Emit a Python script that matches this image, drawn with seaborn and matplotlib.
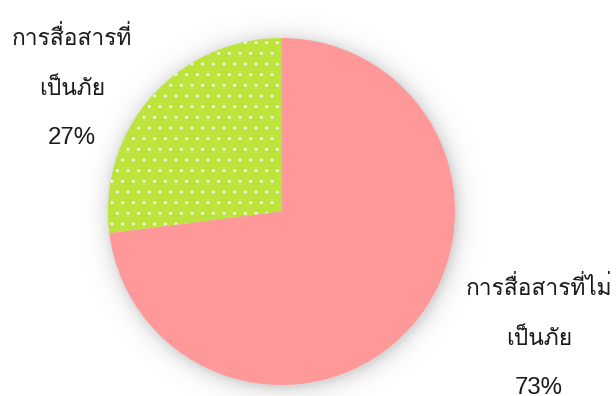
import numpy as np
import matplotlib
matplotlib.use("Agg")
import matplotlib.pyplot as plt
import seaborn as sns

# Share of communication types (percent)
categories = ["การสื่อสารที่\nเป็นภัย", "การสื่อสารที่ไม่\nเป็นภัย"]
shares = [27, 73]
slice_colors = ["#BDE43C", "#FF9999"]

sns.set_theme(style="white")
plt.rcParams["font.family"] = ["Liberation Sans", "Loma", "Noto Sans Thai", "DejaVu Sans"]
plt.rcParams["hatch.linewidth"] = 0.35
plt.rcParams["hatch.color"] = "white"

W, H, DPI = 616, 396, 128
fig = plt.figure(figsize=(W / DPI, H / DPI), dpi=DPI)
fig.patch.set_facecolor("white")
ax = fig.add_axes([0, 0, 1, 1])
ax.set_xlim(0, W)
ax.set_ylim(0, H)
ax.set_aspect("equal")
ax.axis("off")

cx, cy, r = 281.5, H - 211.5, 173.5

# soft drop shadow around the pie
ys, xs = np.mgrid[0:H, 0:W] + 0.5
d = np.hypot(xs - (cx + 1.5), ys - (cy - 2.0))
alpha = 0.15 * np.exp(-np.clip(d - r, 0, None) / 8.5)
shadow = np.zeros((H, W, 4))
shadow[..., 3] = alpha
ax.imshow(shadow, extent=(0, W, 0, H), origin="lower", zorder=0, interpolation="bilinear")

wedges, _ = ax.pie(
    shares,
    colors=slice_colors,
    startangle=90,
    counterclock=True,
    center=(cx, cy),
    radius=r,
    frame=True,
    wedgeprops=dict(linewidth=0, edgecolor="white"),
)
wedges[0].set_hatch("..")
for w in wedges:
    w.set_zorder(2)
ax.set_xlim(0, W)
ax.set_ylim(0, H)
ax.axis("off")

# label blocks: category lines followed by the percentage
label_x = [72, 539]
first_baseline = [45, 295]
line_step = 50
for cat, share, lx, by in zip(categories, shares, label_x, first_baseline):
    lines = cat.split("\n")
    for i, line in enumerate(lines):
        ax.text(lx, H - (by + i * line_step), line, ha="center", va="baseline",
                fontsize=12.8, family=["Loma", "Noto Sans Thai", "DejaVu Sans"],
                color="#1a1a1a", zorder=3)
    ax.text(lx, H - (by + len(lines) * line_step) + 1, f"{share}%", ha="center", va="baseline",
            fontsize=13.5, family=["Liberation Sans", "DejaVu Sans"], color="#1a1a1a", zorder=3)

fig.savefig("out.png", dpi=DPI, facecolor="white")
